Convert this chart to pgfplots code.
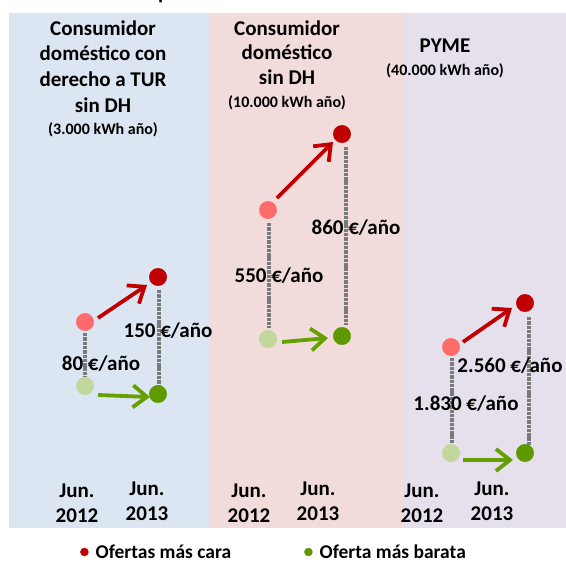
\documentclass[border=0pt]{standalone}
\usepackage{fontspec}
\setmainfont{Carlito}
\usepackage{pgfplots}
\pgfplotsset{compat=1.18}
\usetikzlibrary{arrows.meta}
\definecolor{bgblue}{HTML}{DCE6F2}
\definecolor{bgpink}{HTML}{F2DCDB}
\definecolor{bgpurple}{HTML}{E6E0EC}
\definecolor{lred}{HTML}{FF6B6B}
\definecolor{dred}{HTML}{C00000}
\definecolor{lgreen}{HTML}{C3D69B}
\definecolor{dgreen}{HTML}{5F9900}
\definecolor{agreen}{HTML}{66A000}
\definecolor{dashgray}{HTML}{7A7A7A}
\newcommand{\bigf}{\fontsize{21}{25}\selectfont\bfseries}
\newcommand{\smallf}{\fontsize{16}{19}\selectfont\bfseries}
\begin{document}
\begin{tikzpicture}
\begin{axis}[
  scale only axis, width=566pt, height=563pt,
  xmin=0, xmax=566, ymin=0, ymax=563, y dir=reverse,
  hide axis, clip=false,
  legend columns=2,
  legend style={at={(axis cs:77,552)}, anchor=west, draw=none, fill=none,
    font=\fontsize{19.5}{23}\selectfont\bfseries,
    /tikz/every even column/.append style={column sep=71pt}},
  legend image code/.code={\fill (0pt,0pt) circle (4pt); \path (9pt,0pt);},
  every node/.append style={text=black},
]
% panel backgrounds
\fill[bgblue] (axis cs:9,13) rectangle (axis cs:210,528);
\fill[bgpink] (axis cs:210,13) rectangle (axis cs:403,528);
\fill[bgpurple] (axis cs:403,13) rectangle (axis cs:566,528);

% markers
\addplot[only marks, mark=*, mark size=8.7pt, color=lred, forget plot] coordinates {(85,322) (268,210) (451,347)};
\addplot[only marks, mark=*, mark size=8.7pt, color=lgreen, forget plot] coordinates {(85,386) (268,339) (451,453)};
\addplot[only marks, mark=*, mark size=8.7pt, color=dred, forget plot] coordinates {(158,277) (342,134) (525,303)};
\addplot[only marks, mark=*, mark size=8.7pt, color=dgreen, forget plot] coordinates {(158,394) (342,336) (525,453)};

% dashed connectors
\pgfplotsset{dashline/.style={dashgray, line width=3.8pt, dash pattern=on 3.4pt off 0.9pt, forget plot}}
\addplot[dashline] coordinates {(85,333) (85,377)};
\addplot[dashline] coordinates {(159,290) (159,387)};
\addplot[dashline] coordinates {(269,223) (269,328)};
\addplot[dashline] coordinates {(346,147) (346,325)};
\addplot[dashline] coordinates {(452,358) (452,443)};
\addplot[dashline] coordinates {(529,317) (529,447)};

% arrows
\pgfplotsset{arr/.style={line width=3.8pt, -{Straight Barb[length=14pt,width=22pt]}, forget plot}}
\addplot[arr, dred] coordinates {(98,318) (147,285)};
\addplot[arr, dred] coordinates {(277,198) (333,142)};
\addplot[arr, dred] coordinates {(463,342) (512,308)};
\addplot[arr, agreen] coordinates {(98,395) (150,397)};
\addplot[arr, agreen] coordinates {(282,342) (328,338)};
\addplot[arr, agreen] coordinates {(463,460) (513,460)};

% value labels
\node[anchor=base, font=\bigf] at (axis cs:101,370) {80 €/año};
\node[anchor=base, font=\bigf] at (axis cs:168,337) {150 €/año};
\node[anchor=base, font=\bigf] at (axis cs:279,282) {550 €/año};
\node[anchor=base, font=\bigf] at (axis cs:356,234) {860 €/año};
\node[anchor=base, font=\bigf] at (axis cs:510,372) {2.560 €/año};
\node[anchor=base, font=\bigf] at (axis cs:466,410) {1.830 €/año};

% panel titles
\node[anchor=base, font=\bigf] at (axis cs:103,35) {Consumidor};
\node[anchor=base, font=\bigf] at (axis cs:103,60) {doméstico con};
\node[anchor=base, font=\bigf] at (axis cs:103,86) {derecho a TUR};
\node[anchor=base, font=\bigf] at (axis cs:103,112) {sin DH};
\node[anchor=base, font=\smallf] at (axis cs:103,134) {(3.000 kWh año)};
\node[anchor=base, font=\bigf] at (axis cs:287,35) {Consumidor};
\node[anchor=base, font=\bigf] at (axis cs:287,59) {doméstico};
\node[anchor=base, font=\bigf] at (axis cs:287,84) {sin DH};
\node[anchor=base, font=\smallf] at (axis cs:287,107) {(10.000 kWh año)};
\node[anchor=base, font=\bigf] at (axis cs:445,52) {PYME};
\node[anchor=base, font=\smallf] at (axis cs:445,75) {(40.000 kWh año)};

% date labels
\node[anchor=base, font=\bigf] at (axis cs:77,497) {Jun.};
\node[anchor=base, font=\bigf] at (axis cs:77,522) {2012};
\node[anchor=base, font=\bigf] at (axis cs:147,495) {Jun.};
\node[anchor=base, font=\bigf] at (axis cs:147,520) {2013};
\node[anchor=base, font=\bigf] at (axis cs:249,497) {Jun.};
\node[anchor=base, font=\bigf] at (axis cs:249,522) {2012};
\node[anchor=base, font=\bigf] at (axis cs:318,495) {Jun.};
\node[anchor=base, font=\bigf] at (axis cs:318,520) {2013};
\node[anchor=base, font=\bigf] at (axis cs:422,497) {Jun.};
\node[anchor=base, font=\bigf] at (axis cs:422,522) {2012};
\node[anchor=base, font=\bigf] at (axis cs:492,495) {Jun.};
\node[anchor=base, font=\bigf] at (axis cs:492,520) {2013};

% clipped title remnant
\node[anchor=base west, inner sep=0pt, font=\bigf] at (axis cs:158,-1) {p};

% legend
\addlegendimage{color=dred}
\addlegendentry{Ofertas más cara}
\addlegendimage{color=dgreen}
\addlegendentry{Oferta más barata}
\end{axis}
\pgfresetboundingbox
\useasboundingbox (current axis.south west) rectangle (current axis.north east);
\end{tikzpicture}
\end{document}
